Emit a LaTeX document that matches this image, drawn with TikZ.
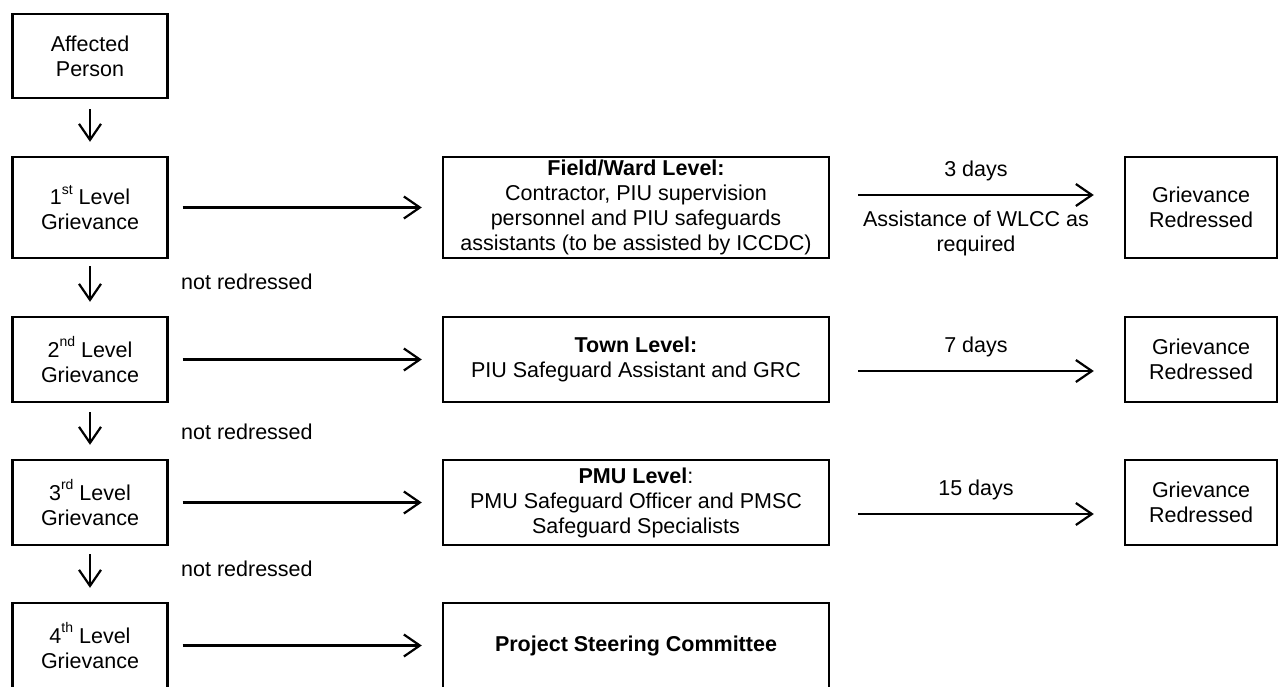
\documentclass[tikz,border=0pt]{standalone}
\usepackage{fontspec}
\setmainfont{Liberation Sans}
\usetikzlibrary{arrows.meta}
\newcommand{\supr}[1]{\raisebox{0.5em}{\fontsize{14}{14}\selectfont #1}}
\begin{document}
\begin{tikzpicture}[x=1pt,y=-1pt,
  every node/.style={font=\fontsize{21.5}{25}\selectfont},
  box/.style={draw, line width=2.4pt, align=center, inner sep=0pt},
  lvl/.style={box, minimum width=155pt},
  mid/.style={box, minimum width=386pt},
  res/.style={box, minimum width=152pt},
  flow/.style={line width=2.2pt, -{Straight Barb[length=16pt,width=22pt,line width=2.2pt]}},
  down/.style={flow, shorten <=8pt, shorten >=14pt},
  lbl/.style={align=center, inner sep=0pt}]
\useasboundingbox (0,0) rectangle (1278,686);
\clip (0,0) rectangle (1278,686);

% left column
\node[lvl, minimum height=84pt] (ap) at (90,56) {Affected\\Person};
\node[lvl, minimum height=101pt] (g1) at (90,207.5) {1\supr{st} Level\\Grievance};
\node[lvl, minimum height=85pt] (g2) at (90,359.5) {2\supr{nd} Level\\Grievance};
\node[lvl, minimum height=85pt] (g3) at (90,502.5) {3\supr{rd} Level\\Grievance};
\node[lvl, minimum height=85pt] (g4) at (90,645.5) {4\supr{th} Level\\Grievance};

% middle column
\node[mid, minimum height=101pt] (f1) at (636,207.5) {\textbf{Field/Ward Level:}\\Contractor, PIU supervision\\personnel and PIU safeguards\\assistants (to be assisted by ICCDC)};
\node[mid, minimum height=85pt] (f2) at (636,359.5) {\textbf{Town Level:}\\PIU Safeguard Assistant and GRC};
\node[mid, minimum height=85pt] (f3) at (636,502.5) {\textbf{PMU Level}:\\PMU Safeguard Officer and PMSC\\Safeguard Specialists};
\node[mid, minimum height=85pt] (f4) at (636,645.5) {\textbf{Project Steering Committee}};

% right column
\node[res, minimum height=101pt] (r1) at (1201,207.5) {Grievance\\Redressed};
\node[res, minimum height=85pt] (r2) at (1201,359.5) {Grievance\\Redressed};
\node[res, minimum height=85pt] (r3) at (1201,502.5) {Grievance\\Redressed};

% downward arrows
\draw[down, shorten <=10pt] (ap) -- (g1);
\draw[down, shorten <=7pt] (g1) -- (g2);
\draw[down, shorten <=9pt] (g2) -- (g3);
\draw[down] (g3) -- (g4);

% not redressed labels
\node[lbl, anchor=west] (n1) at (181,282) {not redressed};
\node[lbl, anchor=west] (n2) at (181,432) {not redressed};
\node[lbl, anchor=west] (n3) at (181,569) {not redressed};

% level -> body arrows
\draw[flow] ([xshift=14pt]g1.east) -- ([xshift=-20pt]f1.west);
\draw[flow] ([xshift=14pt]g2.east) -- ([xshift=-20pt]f2.west);
\draw[flow] ([xshift=14pt]g3.east) -- ([xshift=-20pt]f3.west);
\draw[flow] ([xshift=14pt]g4.east) -- ([xshift=-20pt]f4.west);

% body -> redressed arrows
\draw[flow] ([xshift=28pt,yshift=12.5pt]f1.east) -- ([xshift=-30pt,yshift=12.5pt]r1.west)
  node[lbl, midway, yshift=24pt] {3 days}
  node[lbl, midway, yshift=-38pt] {Assistance of WLCC as\\required};
\draw[flow] ([xshift=28pt,yshift=-11.5pt]f2.east) -- ([xshift=-30pt,yshift=-11.5pt]r2.west)
  node[lbl, midway, yshift=24pt] {7 days};
\draw[flow] ([xshift=28pt,yshift=-11.5pt]f3.east) -- ([xshift=-30pt,yshift=-11.5pt]r3.west)
  node[lbl, midway, yshift=24pt] {15 days};
\end{tikzpicture}
\end{document}
